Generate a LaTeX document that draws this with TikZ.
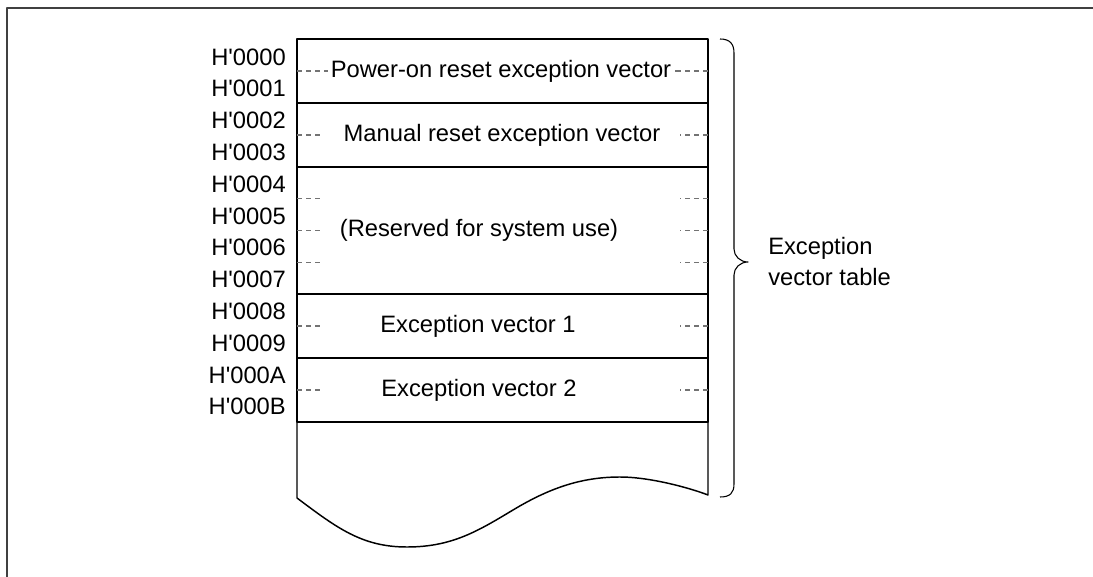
\documentclass[tikz,border=0pt]{standalone}
\usepackage{fontspec}
\setmainfont{Liberation Sans}
\usetikzlibrary{positioning}

\begin{document}
\begin{tikzpicture}[x=0.75pt, y=-0.75pt, line join=round,
    cell/.style={draw, line width=1.1pt, minimum width=308.25pt, minimum height=48pt, inner sep=0pt, outer sep=0pt},
    addr/.style={anchor=east, inner sep=0pt, font=\fontsize{17.8}{21}\selectfont},
    celltext/.style={inner sep=0pt, font=\fontsize{17.8}{23.25}\selectfont},
    tick/.style={draw=black!55, line width=0.9pt, dash pattern=on 4pt off 2.8pt}]
    \useasboundingbox (0,0) rectangle (1093,577);
    \draw[line width=0.9pt, black!75] (1093,8) -- (7,8) -- (7,577);

    % table rows
    \node[cell] (row1) at (502.5,71) {};
    \node[cell] (row2) at (502.5,135) {};
    \node[cell, minimum height=95.25pt] (row3) at (502.5,230.5) {};
    \node[cell] (row4) at (502.5,326) {};
    \node[cell] (row5) at (502.5,390) {};

    \node[celltext] (t1) at (501,71) {Power-on reset exception vector};
    \node[celltext] (t2) at (502,135) {Manual reset exception vector};
    \node[celltext] (t3) at (479,230) {(Reserved for system use)};
    \node[celltext] (t4) at (478,326) {Exception vector 1};
    \node[celltext] (t5) at (479,390) {Exception vector 2};

    % dashed marks
    \draw[tick] (row1.west) -- ([xshift=-2pt]t1.west);
    \draw[tick] (row1.east) -- ([xshift=2pt]t1.east);
    \foreach \r in {row2,row4,row5} {
        \draw[tick] (\r.west) -- ++(27,0);
        \draw[tick] (\r.east) -- ++(-28,0);
    }
    \foreach \s in {-24pt,0pt,24pt} {
        \draw[tick] ([yshift=\s]row3.west) -- ++(27,0);
        \draw[tick] ([yshift=\s]row3.east) -- ++(-28,0);
    }

    % open end of the table
    \draw[line width=1.1pt] (row5.south west) -- (297,498)
        .. controls (337,528) and (362,547) .. (407,547)
        .. controls (452,547) and (478,531) .. (513,510)
        .. controls (548,489) and (580,477) .. (620,477)
        .. controls (650,477) and (690,488) .. (708,495) -- (row5.south east);

    % addresses
    \foreach \a [count=\i from 0] in {0000,0001,0002,0003,0004,0005,0006,0007,0008,0009,000A,000B}
        \node[addr] (a\i) at (286,57+31.8*\i) {H\textquotesingle\a};

    % brace
    \coordinate (tip) at (748,262);
    \draw[line width=0.8pt] (720,39) .. controls (730,39) and (734,44) .. (734,53) -- (734,249)
        .. controls (734,256) and (740,262) .. (tip)
        .. controls (740,262) and (734,268) .. (734,275) -- (734,484)
        .. controls (734,493) and (730,497) .. (720,497);
    \node[celltext, align=left, anchor=west] (lbl) at (768,262) {Exception\\vector table};
\end{tikzpicture}
\end{document}
